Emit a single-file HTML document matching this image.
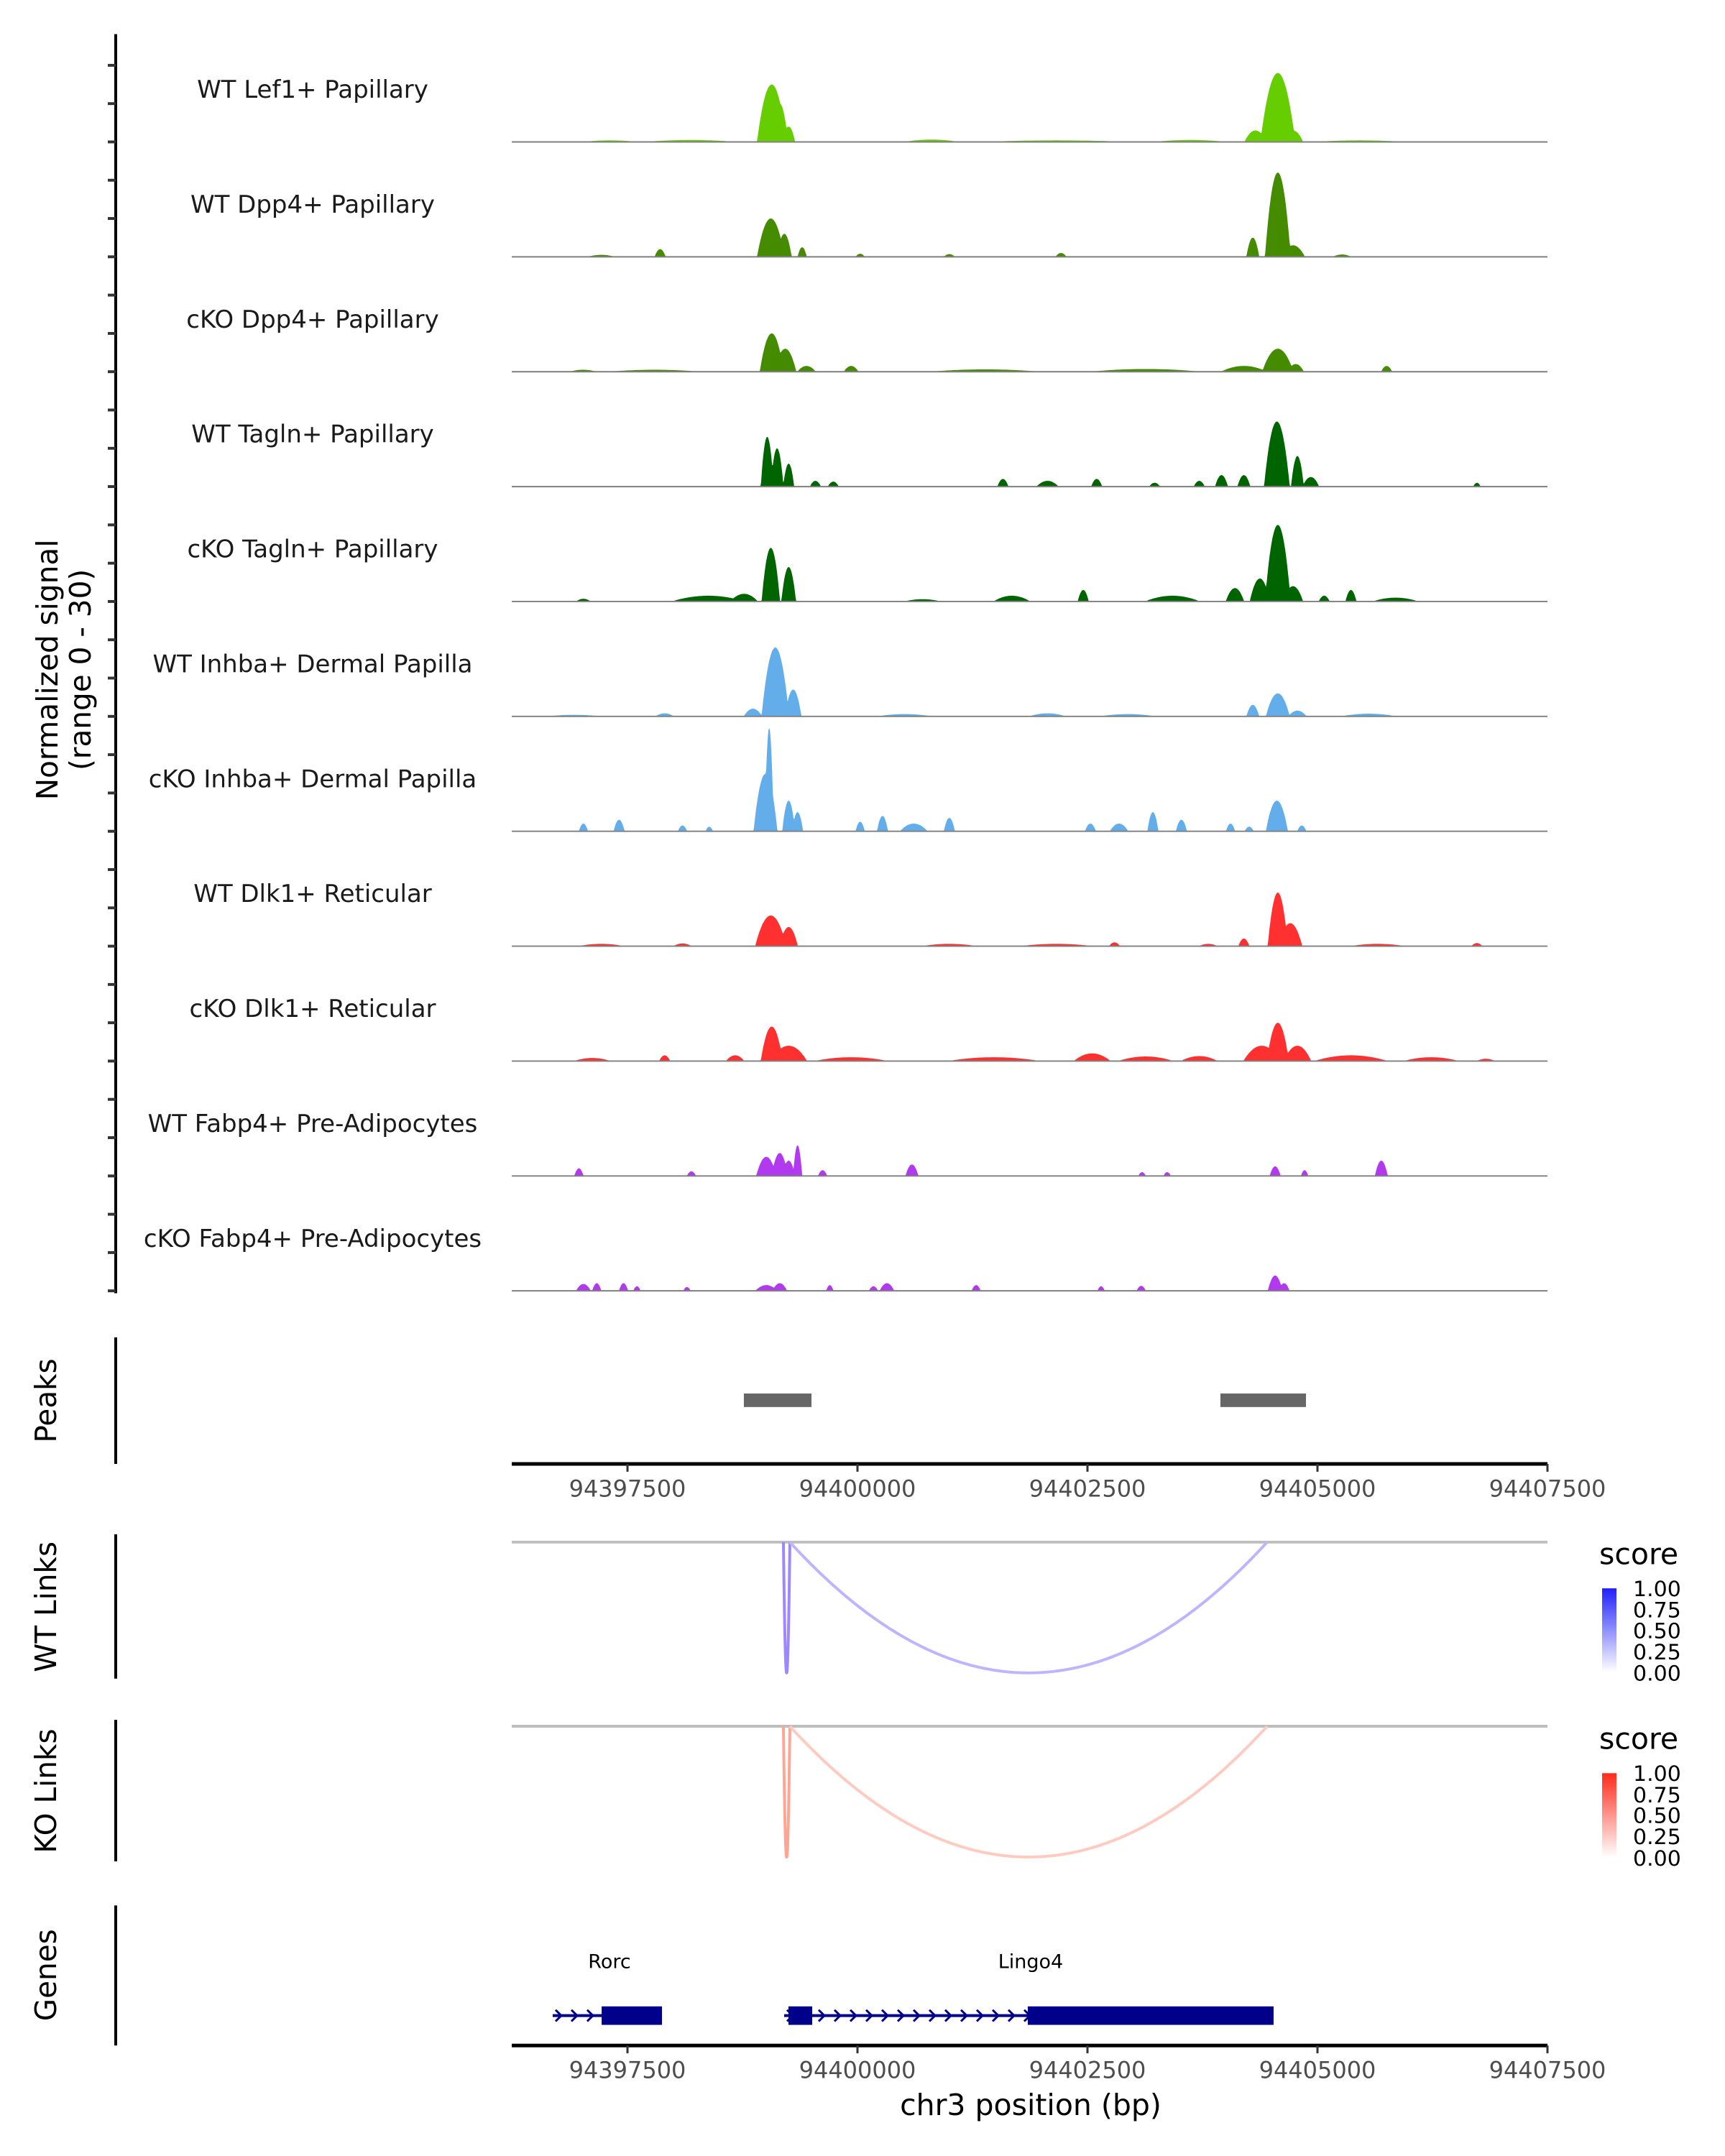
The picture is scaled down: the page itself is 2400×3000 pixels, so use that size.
<!DOCTYPE html>
<html><head><meta charset="utf-8"><style>
html,body{margin:0;padding:0;background:#fff}
svg{display:block}
text{font-family:"DejaVu Sans","Liberation Sans",sans-serif}
</style></head><body>
<svg id="fig" width="2400" height="3000" viewBox="0 0 2400 3000" xmlns="http://www.w3.org/2000/svg">
<defs>
<linearGradient id="gb" x1="0" y1="1" x2="0" y2="0"><stop offset="0" stop-color="#ffffff"/><stop offset="1" stop-color="#2020ff"/></linearGradient>
<linearGradient id="gr" x1="0" y1="1" x2="0" y2="0"><stop offset="0" stop-color="#ffffff"/><stop offset="1" stop-color="#ff2a1a"/></linearGradient>
</defs>
<g transform="scale(1,0.9893)">
<g id="tracks"></g>
<line x1="161" y1="48" x2="161" y2="1819" stroke="#000" stroke-width="4"/>
<g id="yticks"></g>
<text transform="translate(80,942) rotate(-90)" text-anchor="middle" font-size="41">Normalized signal</text>
<text transform="translate(126,942) rotate(-90)" text-anchor="middle" font-size="41">(range 0 - 30)</text>

<line x1="161" y1="1881" x2="161" y2="2059" stroke="#000" stroke-width="4"/>
<text transform="translate(78,1970) rotate(-90)" text-anchor="middle" font-size="41">Peaks</text>
<g id="peaks"></g>
<g id="xaxis1"></g>

<line x1="161" y1="2158" x2="161" y2="2361" stroke="#000" stroke-width="4"/>
<text transform="translate(78,2260) rotate(-90)" text-anchor="middle" font-size="41">WT Links</text>
<line x1="712" y1="2169" x2="2153" y2="2169" stroke="#bebebe" stroke-width="4"/>
<g id="wtlinks"></g>

<line x1="161" y1="2419" x2="161" y2="2618" stroke="#000" stroke-width="4"/>
<text transform="translate(78,2519) rotate(-90)" text-anchor="middle" font-size="41">KO Links</text>
<line x1="712" y1="2428" x2="2153" y2="2428" stroke="#bebebe" stroke-width="4"/>
<g id="kolinks"></g>

<g>
<text x="2225" y="2200" font-size="41">score</text>
<rect x="2229" y="2234" width="20" height="118" fill="url(#gb)"/>
<g font-size="30">
<text x="2272" y="2245">1.00</text><text x="2272" y="2275">0.75</text><text x="2272" y="2304">0.50</text><text x="2272" y="2334">0.25</text><text x="2272" y="2364">0.00</text></g>
</g>
<g>
<text x="2225" y="2460" font-size="41">score</text>
<rect x="2229" y="2494" width="20" height="118" fill="url(#gr)"/>
<g font-size="30">
<text x="2272" y="2505">1.00</text><text x="2272" y="2535">0.75</text><text x="2272" y="2564">0.50</text><text x="2272" y="2594">0.25</text><text x="2272" y="2624">0.00</text></g>
</g>

<line x1="161" y1="2680" x2="161" y2="2877" stroke="#000" stroke-width="4"/>
<text transform="translate(78,2778) rotate(-90)" text-anchor="middle" font-size="41">Genes</text>
<g id="genes"></g>
<g id="xaxis2"></g>
<text x="1434" y="2975" text-anchor="middle" font-size="41">chr3 position (bp)</text>
</g>
</svg>
<script>
const regionStart = 94396242, regionEnd = 94407500;
const xTicks = [94397500, 94400000, 94402500, 94405000, 94407500];
const trackNames = ["WT Lef1+ Papillary","WT Dpp4+ Papillary","cKO Dpp4+ Papillary","WT Tagln+ Papillary","cKO Tagln+ Papillary","WT Inhba+ Dermal Papilla","cKO Inhba+ Dermal Papilla","WT Dlk1+ Reticular","cKO Dlk1+ Reticular","WT Fabp4+ Pre-Adipocytes","cKO Fabp4+ Pre-Adipocytes"];
const trackColors = ["#66CD00","#458B00","#458B00","#006400","#006400","#63AEEA","#63AEEA","#FF3030","#FF3030","#B23AEE","#B23AEE"];
// bumps: [center bp, half-width bp, height (0-30)]
const lef1WT = [[94399068,160,15],[94399155,90,10],[94399252,70,4],[94404569,190,18],[94404326,120,3],[94404734,110,3],[94397312,300,0.4],[94398185,500,0.5],[94400805,300,0.6],[94402163,800,0.4],[94403618,400,0.5],[94405461,500,0.4]];
const dpp4WT = [[94399058,150,10],[94399205,80,6],[94399399,50,2.5],[94404569,140,22],[94404297,70,5],[94404734,130,3],[94397855,60,2],[94402212,60,1],[94400999,60,0.7],[94400029,50,0.8],[94405267,100,0.6],[94397215,150,0.5]];
const dpp4KO = [[94399068,130,10],[94399215,120,6],[94399446,100,1.5],[94399931,80,1.5],[94404569,170,6],[94404200,250,1.5],[94404763,90,2],[94403133,600,0.7],[94401387,600,0.6],[94397797,500,0.5],[94405752,60,1.5],[94397018,150,0.5]];
const taglnWT = [[94399019,70,13],[94399126,70,10],[94399252,60,6],[94399543,60,1.5],[94399737,60,1.3],[94404559,140,17],[94404782,70,8],[94404928,90,2.5],[94404200,70,3],[94403957,70,3],[94401581,60,2],[94402066,120,1.5],[94402600,60,2],[94403230,60,1],[94403715,60,1.5],[94406733,40,1]];
const taglnKO = [[94399058,100,14],[94399252,80,9],[94398767,150,2],[94398379,400,1.5],[94404569,140,20],[94404374,110,6],[94404734,110,4],[94404103,100,3.5],[94402454,60,3],[94401678,200,1.5],[94403424,300,1.5],[94405364,60,3],[94405073,60,1.5],[94405849,250,1],[94397021,80,0.7],[94400708,200,0.6]];
const inhbaWT = [[94399107,150,18],[94399301,90,7],[94398864,100,2],[94404569,130,6],[94404297,70,3],[94404782,100,1.5],[94397904,100,0.8],[94400514,300,0.6],[94402066,200,0.8],[94402939,300,0.6],[94405558,300,0.7],[94396921,300,0.4]];
const inhbaKO = [[94399040,50,27],[94399000,130,15],[94399252,70,8],[94399349,60,5],[94404559,120,8],[94397021,50,2],[94397409,60,3],[94398098,50,1.5],[94398389,40,1.2],[94400029,50,2.5],[94400272,60,4],[94400612,150,2],[94400999,60,3.5],[94402532,60,2],[94402843,100,2],[94403211,60,5],[94403521,60,3],[94404055,50,2],[94404258,50,1.2],[94404830,50,1.5]];
const dlk1WT = [[94399058,170,8],[94399252,100,5],[94404569,110,14],[94404705,130,6],[94404200,60,2],[94397215,250,0.6],[94398098,100,0.7],[94400999,300,0.6],[94402163,400,0.6],[94402794,60,1],[94403812,100,0.6],[94405655,300,0.6],[94406733,60,0.8]];
const dlk1KO = [[94399068,120,9],[94399252,200,4],[94404569,120,10],[94404394,200,4],[94404782,150,4],[94397904,60,1.5],[94398670,100,1.5],[94397118,200,0.8],[94399931,400,1],[94401484,500,1],[94402551,200,2],[94403133,300,1.2],[94403715,200,1.3],[94405364,400,1.5],[94406236,300,1],[94406830,100,0.6]];
const fabp4WT = [[94399009,110,5],[94399155,90,6],[94399349,50,8],[94399252,70,4],[94396972,50,2],[94398195,50,1.2],[94399621,50,1.5],[94400592,70,3],[94403094,40,1],[94403366,40,1],[94404540,60,2.5],[94404860,40,1.5],[94405694,70,4]];
const fabp4KO = [[94397021,80,1.8],[94397166,50,2],[94397457,50,2],[94397603,40,1.2],[94398146,40,1],[94399009,120,1.5],[94399155,80,2],[94399699,40,1.5],[94400174,50,1.2],[94400320,80,2],[94401290,50,1.5],[94402648,40,1.2],[94403084,50,1.3],[94404540,80,4],[94404637,60,2]];
const trackData = [lef1WT,dpp4WT,dpp4KO,taglnWT,taglnKO,inhbaWT,inhbaKO,dlk1WT,dlk1KO,fabp4WT,fabp4KO];
const peakStarts = [94398765, 94403945];
const peakEnds = [94399500, 94404875];
const wtLinkStarts = [94399195, 94399265];
const wtLinkEnds = [94399265, 94404453];
const wtLinkScores = [0.7, 0.45];
const koLinkStarts = [94399195, 94399265];
const koLinkEnds = [94399265, 94404453];
const koLinkScores = [0.6, 0.35];
const geneNames = ["Rorc","Lingo4"];
const geneStarts = [94396687, 94399203];
const geneEnds = [94397875, 94404523];
const exonStarts = [[94397219],[94399250,94401851]];
const exonEnds = [[94397875],[94399508,94404523]];

const NS="http://www.w3.org/2000/svg";
const X0=712, X1=2153;
const xs = bp => X0 + (bp - regionStart) * (X1 - X0) / (regionEnd - regionStart);
const trackTop = 38, trackH = 161.6, sigMax = 30;
function mk(tag, attrs, parent){const e=document.createElementNS(NS,tag);for(const k in attrs)e.setAttribute(k,attrs[k]);parent.appendChild(e);return e;}

const tg=document.getElementById('tracks');
trackNames.forEach((name,i)=>{
  const base = trackTop + (i+1)*trackH;
  const g=mk('g',{},tg);
  
  
  const t=mk('text',{x:435,y:base-62,'text-anchor':'middle','font-size':'34',fill:'#1a1a1a'},g);
  t.textContent=name;
  
  
  const bumps=trackData[i];
  let d='M'+xs(94396400).toFixed(1)+','+base;
  for(let bp=94396400; bp<=94406990; bp+=8){
    let v=0;
    for(const b of bumps){const dd=Math.abs(bp-b[0])/b[1]; if(dd<1){const val=b[2]*(1-dd*dd); if(val>v)v=val;}}
    d+='L'+xs(bp).toFixed(1)+','+(base - v/sigMax*trackH).toFixed(1);
  }
  d+='L'+xs(94406990).toFixed(1)+','+base+'Z';
  const p=mk('path',{d:d,fill:trackColors[i]},g);
  
  
  const l=mk('line',{x1:X0,x2:X1,y1:base,y2:base,stroke:'#7f7f7f','stroke-width':'2'},g);
  
  
});
const yt=document.getElementById('yticks');
for(let i=0;i<11;i++){
  const base=trackTop+(i+1)*trackH;
  [0,1/3,2/3].forEach(f=>{
    const y=base-f*trackH;
    const tk=mk('line',{x1:150,x2:161,y1:y,y2:y,stroke:'#333','stroke-width':'4'},yt);
    
    
  });
}
const pg=document.getElementById('peaks');
peakStarts.forEach((s,i)=>{
  const r=mk('rect',{x:xs(s),y:1960,width:xs(peakEnds[i])-xs(s),height:19,fill:'#666666'},pg);
  
  
});
function axis(id,y){
  const g=document.getElementById(id);
  const a=mk('line',{x1:X0,x2:X1,y1:y,y2:y,stroke:'#000','stroke-width':'5'},g);
  
  
  xTicks.forEach(t=>{
    const x=xs(t);
    const tk=mk('line',{x1:x,x2:x,y1:y,y2:y+11,stroke:'#333','stroke-width':'3'},g);
    
    
    const lb=mk('text',{x:x,y:y+46,'text-anchor':'middle','font-size':'32',fill:'#4d4d4d'},g);
    lb.textContent=String(t);
    
    
  });
}
axis('xaxis1',2059); axis('xaxis2',2877);
function links(id,starts,ends,scores,baseY,depth,color){
  const g=document.getElementById(id);
  starts.forEach((s,i)=>{
    const a=xs(s), b=xs(ends[i]), m=(a+b)/2;
    const p=mk('path',{d:`M${a},${baseY} Q${m},${baseY+2*depth} ${b},${baseY}`,fill:'none',stroke:color(scores[i]),'stroke-width':'4'},g);
    
    
  });
}
links('wtlinks',wtLinkStarts,wtLinkEnds,wtLinkScores,2169,184,s=>`rgb(${Math.round(255-s*140)},${Math.round(255-s*170)},255)`);
links('kolinks',koLinkStarts,koLinkEnds,koLinkScores,2428,184,s=>`rgb(255,${Math.round(255-s*150)},${Math.round(255-s*180)})`);
const gg=document.getElementById('genes');
const gy=2835;
geneNames.forEach((n,i)=>{
  const a=xs(geneStarts[i]), b=xs(geneEnds[i]);
  const t=mk('text',{x:(i==0?848:1434),y:2768,'text-anchor':'middle','font-size':'27'},gg);
  t.textContent=n;
  
  
  const l=mk('line',{x1:a,x2:b,y1:gy,y2:gy,stroke:'#00008B','stroke-width':'4'},gg);
  
  
  for(let x=a+4;x<b-10;x+=22){
    const ch=mk('path',{d:`M${x},${gy-8} L${x+8},${gy} L${x},${gy+8}`,fill:'none',stroke:'#00008B','stroke-width':'3'},gg);
    
    
  }
  exonStarts[i].forEach((s,j)=>{
    const r=mk('rect',{x:xs(s),y:gy-13,width:xs(exonEnds[i][j])-xs(s),height:26,fill:'#00008B'},gg);
    
    
  });
});
</script>
</body></html>
